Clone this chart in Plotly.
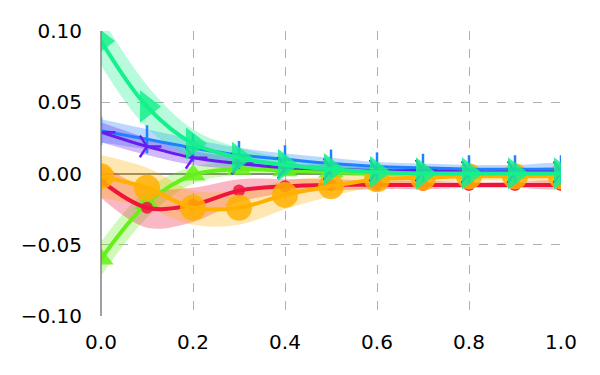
import plotly.graph_objects as go

# ascisse comuni
x = [0.0, 0.1, 0.2, 0.3, 0.4, 0.5, 0.6, 0.7, 0.8, 0.9, 1.0]

# valori medi delle serie
lime_y = [-0.060, -0.021, -0.001, 0.003, 0.002, 0.001, 0.000, 0.000, 0.000, 0.000, 0.000]
red_y = [-0.005, -0.024, -0.022, -0.012, -0.009, -0.008, -0.008, -0.008, -0.008, -0.008, -0.008]
orange_y = [-0.002, -0.010, -0.024, -0.024, -0.015, -0.009, -0.004, -0.003, -0.002, -0.002, -0.002]
blue_y = [0.030, 0.024, 0.018, 0.013, 0.010, 0.007, 0.005, 0.004, 0.003, 0.003, 0.003]
purple_y = [0.029, 0.019, 0.011, 0.007, 0.004, 0.003, 0.002, 0.002, 0.001, 0.001, 0.001]
green_y = [0.093, 0.047, 0.021, 0.011, 0.006, 0.003, 0.001, 0.000, 0.000, 0.000, 0.000]

# ampiezza delle bande
lime_s = [0.012, 0.010, 0.006, 0.004, 0.003, 0.002, 0.002, 0.001, 0.001, 0.001, 0.001]
red_s = [0.012, 0.014, 0.012, 0.008, 0.005, 0.004, 0.003, 0.003, 0.002, 0.002, 0.002]
orange_s = [0.015, 0.014, 0.012, 0.012, 0.010, 0.007, 0.005, 0.004, 0.003, 0.003, 0.003]
blue_s = [0.008, 0.007, 0.006, 0.005, 0.004, 0.004, 0.003, 0.003, 0.003, 0.003, 0.003]
purple_s = [0.007, 0.006, 0.005, 0.004, 0.003, 0.003, 0.002, 0.002, 0.002, 0.002, 0.002]
green_s = [0.017, 0.015, 0.010, 0.007, 0.005, 0.004, 0.003, 0.002, 0.002, 0.002, 0.002]

y_ticks = [-0.10, -0.05, 0.00, 0.05, 0.10]
x_ticks = [0.0, 0.2, 0.4, 0.6, 0.8, 1.0]

series = [
    # (media, banda, colore, rgb, simbolo, dimensione, larghezza linea)
    (lime_y, lime_s, '#66f01a', '102,240,26', 'triangle-up', 22, 4),
    (red_y, red_s, '#f0143c', '240,20,60', 'circle', 12, 4),
    (orange_y, orange_s, '#ffb000', '255,176,0', 'circle', 26, 4),
    (blue_y, blue_s, '#1e82ff', '30,130,255', 'line-ns', 20, 3),
    (purple_y, purple_s, '#6a1bf0', '106,27,240', 'y-right', 18, 3),
    (green_y, green_s, '#14f08c', '20,240,140', 'triangle-right', 28, 4),
]

fig = go.Figure()

# bande di incertezza
for m, s, col, rgb, sym, size, lw in series:
    up = [a + b for a, b in zip(m, s)]
    lo = [a - b for a, b in zip(m, s)]
    fig.add_trace(go.Scatter(
        x=x + x[::-1], y=up + lo[::-1],
        fill='toself', fillcolor='rgba(%s,0.3)' % rgb,
        line=dict(width=0, shape='spline'), mode='lines',
        hoverinfo='skip', showlegend=False
    ))

# linee e marker
for m, s, col, rgb, sym, size, lw in series:
    if sym in ('line-ns', 'y-right'):
        marker = dict(symbol=sym, size=size, line=dict(color=col, width=2.5))
    else:
        marker = dict(symbol=sym, size=size, color=col, opacity=0.85)
    fig.add_trace(go.Scatter(
        x=x, y=m, mode='lines+markers',
        line=dict(color=col, width=lw, shape='spline'),
        marker=marker, showlegend=False
    ))

fig.update_layout(
    width=600, height=375,
    margin=dict(l=93, r=47, t=23, b=67),
    plot_bgcolor='white', paper_bgcolor='white',
    font=dict(family='DejaVu Sans', size=20, color='black'),
)
fig.update_xaxes(
    range=[0, 1], tickvals=x_ticks, ticktext=['%.1f' % v for v in x_ticks],
    showgrid=True, gridcolor='#b0b0b0', griddash='dash', gridwidth=1,
    zeroline=False, showline=False, ticks='outside', ticklen=8, tickcolor='white'
)
fig.update_yaxes(
    range=[-0.1, 0.1], tickvals=y_ticks,
    ticktext=['%.2f' % v if v >= 0 else '\u2212%.2f' % -v for v in y_ticks],
    showgrid=True, gridcolor='#b0b0b0', griddash='dash', gridwidth=1,
    zeroline=True, zerolinecolor='#808080', zerolinewidth=2,
    showline=False, ticks='outside', ticklen=14, tickcolor='white'
)
# asse verticale sinistro
fig.add_shape(type='line', xref='paper', yref='paper', x0=0, x1=0, y0=0, y1=1,
              line=dict(color='#808080', width=1.5), layer='above')

fig.write_html("out.html")
